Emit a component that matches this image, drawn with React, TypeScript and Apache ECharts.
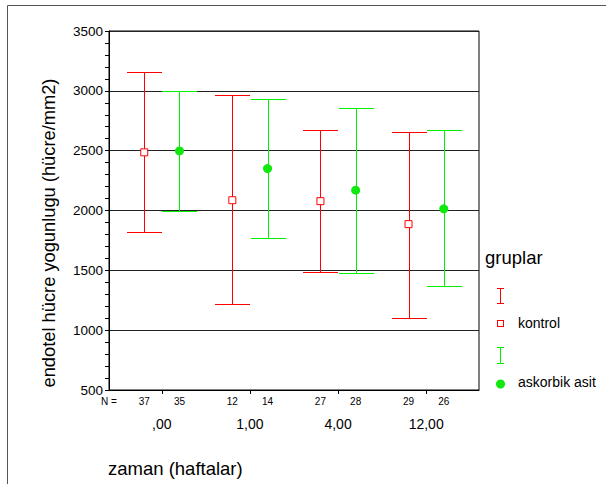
import React, { useEffect, useRef } from "react";
import * as echarts from "echarts";

// ---- data ----
const groupLabels = [",00", "1,00", "4,00", "12,00"];
const groupPos = [0, 1, 2, 3];

const kontrolMean = [2486, 2086, 2078, 1886];
const kontrolLow = [1822, 1215, 1483, 1105];
const kontrolHigh = [3156, 2962, 2673, 2653];
const kontrolN = [37, 12, 27, 29];

const askorbikMean = [2498, 2350, 2170, 2014];
const askorbikLow = [1997, 1767, 1478, 1369];
const askorbikHigh = [3000, 2928, 2853, 2673];
const askorbikN = [35, 14, 28, 26];

const yMin = 500;
const yMax = 3500;
const yStep = 500;

// ---- layout / style ----
const FONT = '"Liberation Sans", Arial, sans-serif';
const RED = "#ff0000";
const GREEN = "#00f000";
const GREEN_DOT = "#10e810";
const OFFSET = 0.2;
const X_MIN = -0.6;
const X_MAX = 3.6;
const CAP_HALF = 17.5;

const kPos = groupPos.map((p) => p - OFFSET);
const aPos = groupPos.map((p) => p + OFFSET);

const nPositions = [X_MIN, ...kPos, ...aPos];
const nTexts = ["N =", ...kontrolN.map(String), ...askorbikN.map(String)];

const findIdx = (arr: number[], v: number) =>
  arr.findIndex((p) => Math.abs(p - v) < 1e-6);

const errorBarRender = (color: string) => (params: any, api: any) => {
  const x = api.value(0);
  const lo = api.coord([x, api.value(1)]);
  const hi = api.coord([x, api.value(2)]);
  const cx = Math.round(lo[0]) + 0.5;
  const yLo = Math.round(lo[1]) + 0.5;
  const yHi = Math.round(hi[1]) + 0.5;
  const style = { stroke: color, lineWidth: 1 };
  return {
    type: "group",
    children: [
      { type: "line", shape: { x1: cx, y1: yHi, x2: cx, y2: yLo }, style },
      { type: "line", shape: { x1: cx - CAP_HALF, y1: yHi, x2: cx + CAP_HALF, y2: yHi }, style },
      { type: "line", shape: { x1: cx - CAP_HALF, y1: yLo, x2: cx + CAP_HALF, y2: yLo }, style },
    ],
  };
};

export default function App() {
  const ref = useRef<HTMLDivElement>(null);

  useEffect(() => {
    if (!ref.current) return;
    const chart = echarts.init(ref.current, undefined, { renderer: "svg" });

    const option: any = {
      animation: false,
      backgroundColor: "#ffffff",
      textStyle: { fontFamily: FONT, color: "#000" },
      grid: {
        left: 109,
        right: 127,
        top: 31,
        bottom: 94,
        show: true,
        borderColor: "#000",
        borderWidth: 1,
        containLabel: false,
      },
      xAxis: [
        {
          type: "value",
          min: X_MIN,
          max: X_MAX,
          position: "bottom",
          axisLine: { show: true, onZero: false, lineStyle: { color: "#000", width: 1 } },
          axisTick: { show: true, customValues: groupPos, length: 4, lineStyle: { color: "#000" } },
          axisLabel: {
            customValues: groupPos,
            formatter: (v: number) => groupLabels[findIdx(groupPos, v)] ?? "",
            margin: 27,
            fontSize: 14,
            color: "#000",
            fontFamily: FONT,
          },
          splitLine: { show: false },
        },
        {
          type: "value",
          min: X_MIN,
          max: X_MAX,
          position: "bottom",
          axisLine: { show: false, onZero: false },
          axisTick: { show: false },
          axisLabel: {
            customValues: nPositions,
            formatter: (v: number) => nTexts[findIdx(nPositions, v)] ?? "",
            margin: 6,
            fontSize: 10,
            color: "#000",
            fontFamily: FONT,
            showMinLabel: true,
            showMaxLabel: true,
          },
          splitLine: { show: false },
        },
      ],
      yAxis: {
        type: "value",
        min: yMin,
        max: yMax,
        interval: yStep,
        position: "left",
        axisLine: { show: true, onZero: false, lineStyle: { color: "#000", width: 1 } },
        axisTick: { show: true, length: 4, lineStyle: { color: "#000" } },
        minorTick: { show: true, splitNumber: 5, length: 4, lineStyle: { color: "#000" } },
        axisLabel: {
          fontSize: 13.5,
          color: "#000",
          margin: 6,
          fontFamily: FONT,
          formatter: (v: number) => String(v),
        },
        splitLine: { show: true, lineStyle: { color: "#222", width: 1 } },
      },
      series: [
        {
          name: "kontrolBar",
          type: "custom",
          xAxisIndex: 0,
          renderItem: errorBarRender(RED),
          encode: { x: 0, y: [1, 2] },
          data: kPos.map((x, i) => [x, kontrolLow[i], kontrolHigh[i]]),
          z: 2,
        },
        {
          name: "askorbikBar",
          type: "custom",
          xAxisIndex: 0,
          renderItem: errorBarRender(GREEN),
          encode: { x: 0, y: [1, 2] },
          data: aPos.map((x, i) => [x, askorbikLow[i], askorbikHigh[i]]),
          z: 2,
        },
        {
          name: "kontrol",
          type: "scatter",
          xAxisIndex: 0,
          symbol: "rect",
          symbolSize: 7,
          itemStyle: { color: "#ffffff", borderColor: RED, borderWidth: 1, opacity: 1 },
          data: kPos.map((x, i) => [x, kontrolMean[i]]),
          z: 3,
        },
        {
          name: "askorbik asit",
          type: "scatter",
          xAxisIndex: 0,
          symbol: "circle",
          symbolSize: 9,
          itemStyle: { color: GREEN_DOT, opacity: 1 },
          data: aPos.map((x, i) => [x, askorbikMean[i]]),
          z: 3,
        },
      ],
      graphic: [
        {
          type: "rect",
          silent: true,
          shape: { x: 7.5, y: 5.5, width: 700, height: 600 },
          style: { fill: "none", stroke: "#555", lineWidth: 1 },
        },
        {
          type: "text",
          x: 48,
          y: 233,
          rotation: Math.PI / 2,
          style: {
            text: "endotel hücre yogunlugu (hücre/mm2)",
            font: `18.3px ${FONT}`,
            fill: "#000",
            textAlign: "center",
            textVerticalAlign: "middle",
          },
        },
        {
          type: "text",
          x: 108,
          y: 468,
          style: {
            text: "zaman (haftalar)",
            font: `18.5px ${FONT}`,
            fill: "#000",
            textAlign: "left",
            textVerticalAlign: "middle",
          },
        },
        {
          type: "text",
          x: 485,
          y: 257,
          style: {
            text: "gruplar",
            font: `18.5px ${FONT}`,
            fill: "#000",
            textAlign: "left",
            textVerticalAlign: "middle",
          },
        },
        // legend: kontrol error bar icon
        { type: "line", shape: { x1: 500.5, y1: 288.5, x2: 500.5, y2: 303.5 }, style: { stroke: RED, lineWidth: 1 } },
        { type: "line", shape: { x1: 497, y1: 288.5, x2: 504, y2: 288.5 }, style: { stroke: RED, lineWidth: 1 } },
        { type: "line", shape: { x1: 497, y1: 303.5, x2: 504, y2: 303.5 }, style: { stroke: RED, lineWidth: 1 } },
        // legend: kontrol marker (hollow square)
        { type: "rect", shape: { x: 497, y: 320, width: 7, height: 7 }, style: { fill: RED } },
        { type: "rect", shape: { x: 498, y: 321, width: 5, height: 5 }, style: { fill: "#ffffff" } },
        {
          type: "text",
          x: 518,
          y: 323,
          style: { text: "kontrol", font: `14px ${FONT}`, fill: "#000", textAlign: "left", textVerticalAlign: "middle" },
        },
        // legend: askorbik error bar icon
        { type: "line", shape: { x1: 500.5, y1: 347.5, x2: 500.5, y2: 363.5 }, style: { stroke: GREEN, lineWidth: 1 } },
        { type: "line", shape: { x1: 497, y1: 347.5, x2: 504, y2: 347.5 }, style: { stroke: GREEN, lineWidth: 1 } },
        { type: "line", shape: { x1: 497, y1: 363.5, x2: 504, y2: 363.5 }, style: { stroke: GREEN, lineWidth: 1 } },
        {
          type: "circle",
          shape: { cx: 500.5, cy: 384, r: 4.5 },
          style: { fill: GREEN_DOT },
        },
        {
          type: "text",
          x: 518,
          y: 382,
          style: { text: "askorbik asit", font: `14px ${FONT}`, fill: "#000", textAlign: "left", textVerticalAlign: "middle" },
        },
      ],
    };

    chart.setOption(option);
    return () => chart.dispose();
  }, []);

  return (
    <div
      ref={ref}
      style={{ position: "absolute", left: 0, top: 0, width: 606, height: 484, background: "#fff" }}
    />
  );
}
